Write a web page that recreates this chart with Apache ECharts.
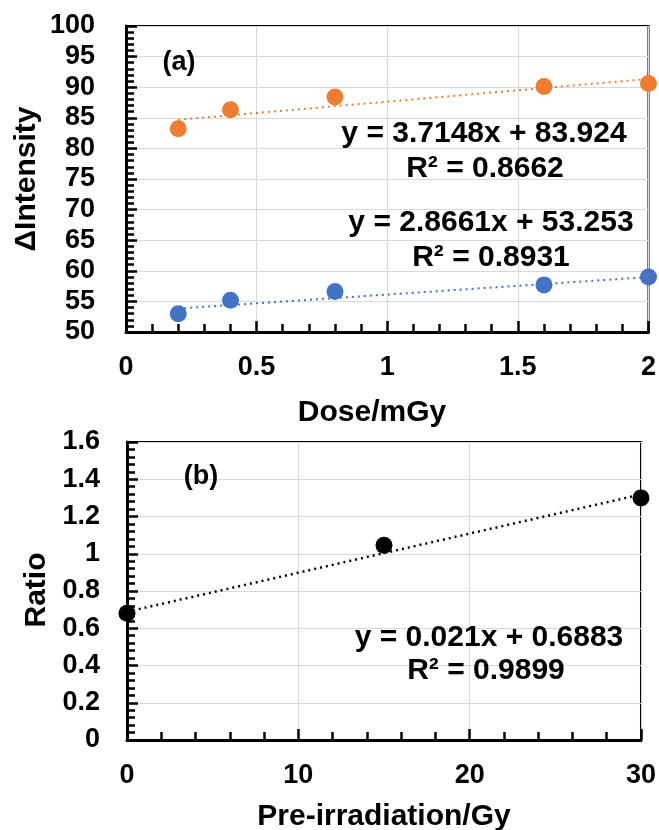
<!DOCTYPE html>
<html>
<head>
<meta charset="utf-8">
<script src="https://cdn.jsdelivr.net/npm/echarts@6/dist/echarts.min.js"></script>
<style>html,body{margin:0;padding:0;background:#fff}#c{width:659px;height:830px}</style>
</head>
<body>
<div id="c"></div>
<script>
// Panel (a)
const doseX = [0.2, 0.4, 0.8, 1.6, 2.0];
const orangeY = [83.2, 86.3, 88.4, 90.1, 90.6];
const blueY = [53.0, 55.2, 56.6, 57.7, 59.0];
const orangeTrend = [[0.2, 84.67], [2.0, 91.35]];
const blueTrend = [[0.2, 53.83], [2.0, 58.98]];
// Panel (b)
const preX = [0, 15, 30];
const ratioY = [0.68, 1.045, 1.30];
const blackTrend = [[0, 0.6883], [30, 1.3183]];
// Texts
const eqOrange = ['y = 3.7148x + 83.924', 'R² = 0.8662'];
const eqBlue = ['y = 2.8661x + 53.253', 'R² = 0.8931'];
const eqBlack = ['y = 0.021x + 0.6883', 'R² = 0.9899'];

const FONT = '"Liberation Sans", Arial, sans-serif';
const pts = (xs, ys) => xs.map((x, i) => [x, ys[i]]);

function axisCommon(labelMargin) {
  return {
    axisLine: { show: true, onZero: false, lineStyle: { color: '#000', width: 3 } },
    axisTick: { show: true, inside: true, length: 11, lineStyle: { color: '#000', width: 2.5 } },
    minorTick: { show: true, splitNumber: 5, length: 8, lineStyle: { color: '#000', width: 2.5 } },
    splitLine: { show: true, lineStyle: { color: '#d9d9d9', width: 1 } },
    axisLabel: { color: '#000', fontFamily: FONT, fontWeight: 'bold', fontSize: 27, margin: labelMargin }
  };
}

const chart = echarts.init(document.getElementById('c'), null, { renderer: 'canvas' });
const txt = (t, x, y, size, rot) => ({
  type: 'text', x: x, y: y, rotation: rot || 0,
  style: { text: t, fill: '#000', font: 'bold ' + size + 'px ' + FONT, textAlign: 'center', textVerticalAlign: 'middle' },
  z: 100
});

chart.setOption({
  animation: false,
  grid: [
    { left: 126, top: 26, right: 10, bottom: 498, show: true, borderColor: '#000', borderWidth: 2 },
    { left: 127, top: 442, right: 18, bottom: 90, show: true, borderColor: '#000', borderWidth: 2 }
  ],
  xAxis: [
    Object.assign(axisCommon(22), { type: 'value', gridIndex: 0, min: 0, max: 2, interval: 0.5 }),
    Object.assign(axisCommon(22), { type: 'value', gridIndex: 1, min: 0, max: 30, interval: 10 })
  ],
  yAxis: [
    Object.assign(axisCommon(31), { type: 'value', gridIndex: 0, min: 50, max: 100, interval: 5 }),
    Object.assign(axisCommon(27), { type: 'value', gridIndex: 1, min: 0, max: 1.6, interval: 0.2 })
  ],
  series: [
    { type: 'line', xAxisIndex: 0, yAxisIndex: 0, data: orangeTrend, showSymbol: false, symbol: 'none',
      lineStyle: { color: '#ED7D31', width: 2, type: [2, 4] }, z: 3 },
    { type: 'line', xAxisIndex: 0, yAxisIndex: 0, data: blueTrend, showSymbol: false, symbol: 'none',
      lineStyle: { color: '#4472C4', width: 2, type: [2, 4] }, z: 3 },
    { type: 'scatter', xAxisIndex: 0, yAxisIndex: 0, data: pts(doseX, orangeY), symbolSize: 17,
      itemStyle: { color: '#ED7D31', opacity: 1 }, z: 5, clip: false },
    { type: 'scatter', xAxisIndex: 0, yAxisIndex: 0, data: pts(doseX, blueY), symbolSize: 17,
      itemStyle: { color: '#4472C4', opacity: 1 }, z: 5, clip: false },
    { type: 'line', xAxisIndex: 1, yAxisIndex: 1, data: blackTrend, showSymbol: false, symbol: 'none',
      lineStyle: { color: '#000', width: 2.5, type: [2, 4] }, z: 3 },
    { type: 'scatter', xAxisIndex: 1, yAxisIndex: 1, data: pts(preX, ratioY), symbolSize: 17,
      itemStyle: { color: '#000', opacity: 1 }, z: 5, clip: false }
  ],
  graphic: [
    txt('(a)', 179, 63, 27),
    txt('(b)', 201, 477, 27),
    txt(eqOrange[0], 484, 134, 30),
    txt(eqOrange[1], 485, 169, 30),
    txt(eqBlue[0], 491, 223, 30),
    txt(eqBlue[1], 491, 258, 30),
    txt(eqBlack[0], 489, 638, 30),
    txt(eqBlack[1], 486, 671, 30),
    txt('Dose/mGy', 372, 413, 30),
    txt('Pre-irradiation/Gy', 384, 817, 30),
    txt('ΔIntensity', 27, 179, 30, Math.PI / 2),
    txt('Ratio', 37, 590, 30, Math.PI / 2)
  ]
});
</script>
</body>
</html>
